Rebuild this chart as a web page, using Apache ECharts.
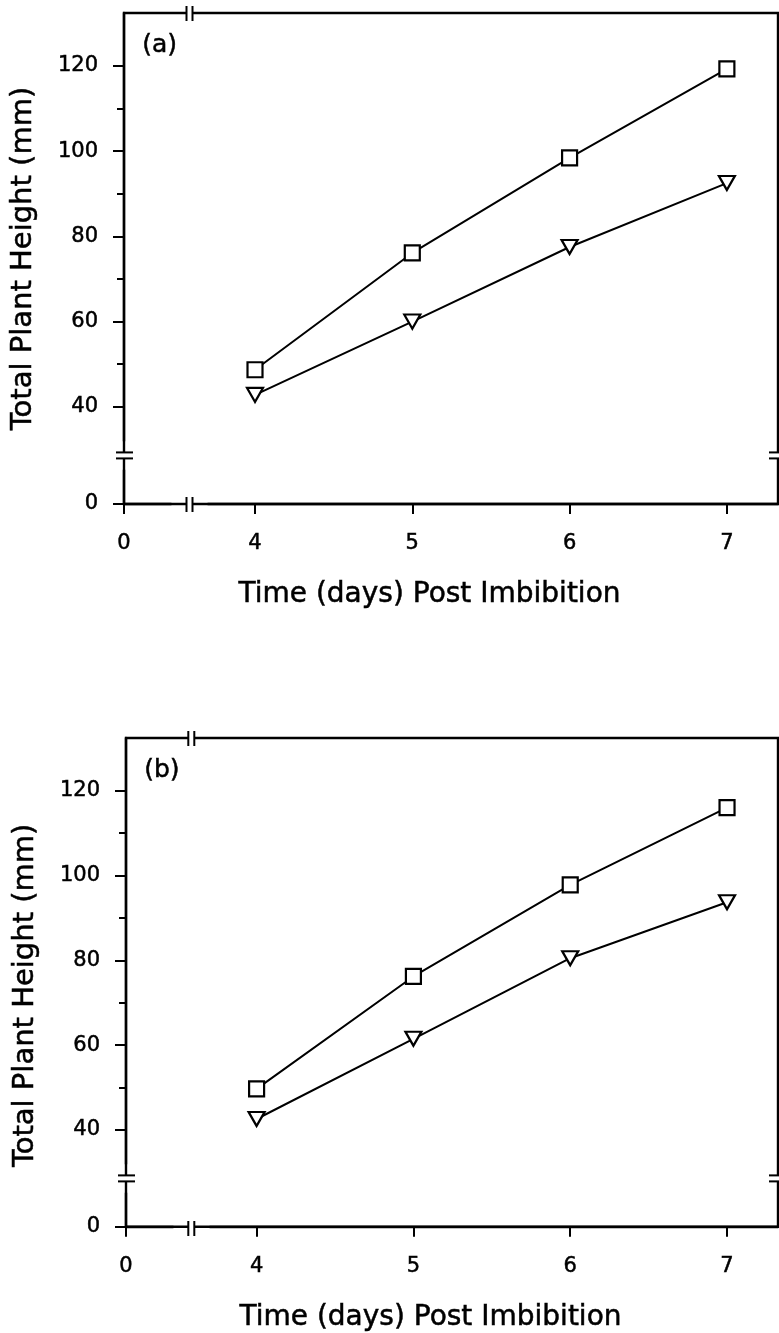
<!DOCTYPE html>
<html><head><meta charset="utf-8">
<script src="https://cdn.jsdelivr.net/npm/echarts@6/dist/echarts.min.js"></script>
<style>html,body{margin:0;padding:0;background:#fff}#c{width:779px;height:1333px}</style>
</head><body><div id="c"></div>
<script>
// ---- data ----
const days = [4, 5, 6, 7];
const squareA = [48.7, 76.1, 98.4, 119.3];
const triangleA = [42.8, 60.0, 77.5, 92.5];
const squareB = [49.7, 76.2, 97.8, 116.0];
const triangleB = [42.6, 61.5, 80.5, 93.7];
const xTicks = [0, 4, 5, 6, 7];
const yTicks = [0, 40, 60, 80, 100, 120];
const yMinorTicks = [50, 70, 90, 110];
const panelLabels = ['(a)', '(b)'];
const xTitle = 'Time (days) Post Imbibition';
const yTitle = 'Total Plant Height (mm)';

// ---- layout ----
const FONT = 'DejaVu Sans';
const grids = [
  {left: 124, top: 13, width: 654, height: 491},
  {left: 126, top: 738, width: 652, height: 490}
];
const xBreak = {start: 0.3, end: 3.7, gap: '5.6%'};
const yBreak = {start: 8, end: 32, gap: '5.9%'};
const yNameShift = [0, 26];
const heavy = {textBorderColor: '#000', textBorderWidth: 0.5};
const AXW = 2.4;

const chart = echarts.init(document.getElementById('c'), null, {renderer: 'canvas'});
const black = '#000';

const xAxes = [], yAxes = [], series = [];
grids.forEach((g, i) => {
  xAxes.push({
    type: 'value', gridIndex: i, position: 'bottom', min: 0, max: 7.325,
    breaks: [Object.assign({}, xBreak)], breakArea: {show: false},
    axisLine: {onZero: false, lineStyle: {color: black, width: AXW}},
    axisTick: {customValues: xTicks, inside: false, length: 10, lineStyle: {color: black, width: 2}},
    axisLabel: Object.assign({customValues: xTicks, margin: 29, color: black, fontFamily: FONT, fontSize: 21}, heavy),
    splitLine: {show: false},
    name: xTitle, nameLocation: 'middle', nameGap: 77,
    nameTextStyle: Object.assign({color: black, fontFamily: FONT, fontSize: 28, padding: [0, 43, 0, 0]}, heavy)
  });
  yAxes.push({
    type: 'value', gridIndex: i, position: 'left', min: 0, max: 132.4,
    breaks: [Object.assign({}, yBreak)], breakArea: {show: false},
    axisLine: {onZero: false, lineStyle: {color: black, width: AXW}},
    axisTick: {customValues: yTicks, inside: false, length: 11, lineStyle: {color: black, width: 2}},
    axisLabel: Object.assign({customValues: yTicks, margin: 26, color: black, fontFamily: FONT, fontSize: 21}, heavy),
    splitLine: {show: false},
    name: yTitle, nameLocation: 'middle', nameGap: 86,
    nameTextStyle: Object.assign({color: black, fontFamily: FONT, fontSize: 29, padding: [0, yNameShift[i], 0, 0]}, heavy)
  });
  yAxes.push({
    type: 'value', gridIndex: i, position: 'left', offset: 0, min: 0, max: 132.4,
    breaks: [Object.assign({}, yBreak)], breakArea: {show: false},
    axisLine: {show: false, onZero: false},
    axisTick: {customValues: yMinorTicks, inside: false, length: 7, lineStyle: {color: black, width: 2}},
    axisLabel: {show: false},
    splitLine: {show: false}
  });
});

const panels = [[squareA, triangleA], [squareB, triangleB]];
panels.forEach((p, i) => {
  series.push({
    type: 'line', xAxisIndex: i, yAxisIndex: i * 2,
    data: days.map((d, k) => [d, p[0][k]]),
    symbol: 'rect', symbolSize: 15,
    lineStyle: {color: black, width: 2},
    itemStyle: {color: '#fff', borderColor: black, borderWidth: 2.2},
    z: 3
  });
  series.push({
    type: 'line', xAxisIndex: i, yAxisIndex: i * 2,
    data: days.map((d, k) => [d, p[1][k]]),
    symbol: 'triangle', symbolRotate: 180, symbolSize: [16, 14],
    lineStyle: {color: black, width: 2},
    itemStyle: {color: '#fff', borderColor: black, borderWidth: 2.2},
    z: 3
  });
});

chart.setOption({
  animation: false,
  backgroundColor: '#fff',
  grid: grids.map(g => Object.assign({show: true, borderColor: black, borderWidth: AXW, backgroundColor: 'transparent'}, g)),
  xAxis: xAxes, yAxis: yAxes, series: series
});

// ---- break marks and panel labels ----
const graphics = [];
grids.forEach((g, i) => {
  const x0 = chart.convertToPixel({xAxisIndex: i}, xBreak.start);
  const x1 = chart.convertToPixel({xAxisIndex: i}, xBreak.end);
  const y0 = chart.convertToPixel({yAxisIndex: i * 2}, yBreak.start);
  const y1 = chart.convertToPixel({yAxisIndex: i * 2}, yBreak.end);
  const xm = (x0 + x1) / 2, ym = (y0 + y1) / 2;
  const L = g.left, T = g.top, R = g.left + g.width, B = g.top + g.height;
  const ls = {stroke: black, lineWidth: 2};
  [[xm - 3, T - 3, 6, 6], [xm - 3, B - 3, 6, 6], [L - 3, ym - 3, 6, 6], [R - 3, ym - 3, 6, 6]].forEach(r => {
    graphics.push({type: 'rect', z: 100, shape: {x: r[0], y: r[1], width: r[2], height: r[3]}, style: {fill: '#fff'}});
  });
  [T, B].forEach(yy => {
    [xm - 3, xm + 3].forEach(xx => {
      graphics.push({type: 'line', z: 101, shape: {x1: xx, y1: yy - 7, x2: xx, y2: yy + 8}, style: ls});
    });
  });
  [ym - 3, ym + 3].forEach(yy => {
    graphics.push({type: 'line', z: 101, shape: {x1: L - 8, y1: yy, x2: L + 9, y2: yy}, style: ls});
    graphics.push({type: 'line', z: 101, shape: {x1: R - 9, y1: yy, x2: R + 2, y2: yy}, style: ls});
  });
  graphics.push({type: 'text', z: 101, left: L + 18, top: T + 20,
    style: {text: panelLabels[i], fill: black, fontSize: 25, fontFamily: FONT, stroke: black, lineWidth: 0.5}});
});
chart.setOption({graphic: graphics});
</script>
</body></html>
